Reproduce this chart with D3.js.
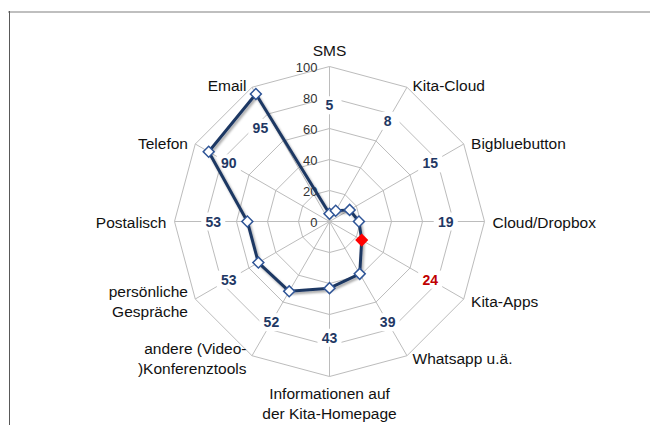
<!DOCTYPE html>
<html>
<head>
<meta charset="utf-8">
<script src="https://cdn.jsdelivr.net/npm/d3@7"></script>
<style>
  body { margin: 0; background: #fff; }
  svg { display: block; font-family: "Liberation Sans", Arial, sans-serif; }
</style>
</head>
<body>
<div id="chart"></div>
<script>
// categories, clockwise from the top
const categories = ["SMS", "Kita-Cloud", "Bigbluebutton", "Cloud/Dropbox", "Kita-Apps", "Whatsapp u.ä.",
  "Informationen auf der Kita-Homepage", "andere (Video-)Konferenztools", "persönliche Gespräche",
  "Postalisch", "Telefon", "Email"]
const categoryLines = [["SMS"], ["Kita-Cloud"], ["Bigbluebutton"], ["Cloud/Dropbox"], ["Kita-Apps"], ["Whatsapp u.ä."],
  ["Informationen auf", "der Kita-Homepage"], ["andere (Video-", ")Konferenztools"], ["persönliche", "Gespräche"],
  ["Postalisch"], ["Telefon"], ["Email"]]
const values = [5, 8, 15, 19, 24, 39, 43, 52, 53, 53, 90, 95]
const highlighted = ["Kita-Apps"]
const ticks = [0, 20, 40, 60, 80, 100]

const width = 650, height = 425
const cx = 329.5, cy = 221.5, R = 155

// the Email label was dragged off its spoke in the original
const labelNudge = { "Email": [-11, 7] }

const svg = d3.select("#chart").append("svg")
  .attr("width", width)
  .attr("height", height)

// frame lines of the chart area
svg.append("line").attr("x1", 8).attr("x2", width).attr("y1", 12).attr("y2", 12)
  .style("stroke", "#bfbfbf").style("stroke-width", 2)
svg.append("line").attr("x1", 9.5).attr("x2", 9.5).attr("y1", 11).attr("y2", height)
  .style("stroke", "#595959").style("stroke-width", 1)

const defs = svg.append("defs")
defs.append("filter").attr("id", "shadow").attr("x", "-10%").attr("y", "-10%").attr("width", "130%").attr("height", "130%")
  .append("feDropShadow").attr("dx", 1.5).attr("dy", 2).attr("stdDeviation", 1.3)
  .attr("flood-color", "#000").attr("flood-opacity", 0.35)

const g = svg.append("g").attr("transform", `translate(${cx},${cy})`)

const r = d3.scaleLinear().domain([0, 100]).range([0, R])
const angle = d3.scaleLinear().domain([0, categories.length]).range([0, 2 * Math.PI])

// grid rings
const ring = d3.lineRadial().curve(d3.curveLinearClosed)
g.selectAll(".ring")
  .data(ticks.slice(1))
  .join("path")
    .attr("class", "ring")
    .attr("d", t => ring(categories.map((c, i) => [angle(i), r(t)])))
    .style("fill", "none")
    .style("stroke", "#bcbcbc")
    .style("stroke-width", 1)

// spokes
g.selectAll(".spoke")
  .data(categories)
  .join("line")
    .attr("class", "spoke")
    .attr("x1", 0).attr("y1", 0)
    .attr("x2", (d, i) => d3.pointRadial(angle(i), R)[0])
    .attr("y2", (d, i) => d3.pointRadial(angle(i), R)[1])
    .style("stroke", "#bcbcbc")
    .style("stroke-width", 1)

// tick labels along the first axis
g.selectAll(".tick")
  .data(ticks)
  .join("text")
    .attr("class", "tick")
    .attr("x", -12)
    .attr("y", t => -r(t) + 2)
    .attr("text-anchor", "end")
    .attr("dominant-baseline", "middle")
    .style("font-size", "13px")
    .style("fill", "#333")
    .text(t => t)

// data labels on a fixed ring, with white background cutting the grid
const labelG = g.selectAll(".dlabel")
  .data(values)
  .join("g")
    .attr("class", "dlabel")
    .attr("transform", (d, i) => {
      const p = d3.pointRadial(angle(i), r(75))
      const n = labelNudge[categories[i]] || [0, 0]
      return `translate(${p[0] + n[0]},${p[1] + n[1]})`
    })
labelG.append("rect")
  .attr("x", -12).attr("y", -9).attr("width", 24).attr("height", 18)
  .style("fill", "#fff")
labelG.append("text")
  .attr("text-anchor", "middle")
  .attr("dominant-baseline", "central")
  .style("font-size", "14px")
  .style("font-weight", "bold")
  .style("fill", (d, i) => highlighted.includes(categories[i]) ? "#c00000" : "#1f3864")
  .text(d => d)

// category labels
categoryLines.forEach((lines, i) => {
  const a = angle(i)
  const s = Math.sin(a), c = Math.cos(a)
  let anchor = "middle", x, y
  if (Math.abs(s) < 0.01) {
    x = 0
    y = c > 0 ? -R - 17 : R + 16
  } else {
    const p = d3.pointRadial(a, R)
    anchor = s > 0 ? "start" : "end"
    x = p[0] + (s > 0 ? 1 : -1) * (3 + 5 * Math.abs(s))
    y = p[1] - 3 * c
  }
  const t = g.append("text")
    .attr("text-anchor", anchor)
    .attr("dominant-baseline", "central")
    .style("font-size", "15.5px")
    .style("fill", "#111")
  const startY = (Math.abs(s) < 0.01) ? y : y - (lines.length - 1) * 10
  lines.forEach((ln, k) => {
    t.append("tspan").attr("x", x).attr("y", startY + k * 20).text(ln)
  })
})

// series line
const pts = values.map((v, i) => [angle(i), r(v)])
g.append("path")
  .attr("d", d3.lineRadial().curve(d3.curveLinearClosed)(pts))
  .style("fill", "none")
  .style("stroke", "#1f3864")
  .style("stroke-width", 3)
  .style("stroke-linejoin", "round")
  .attr("filter", "url(#shadow)")

// diamond markers
const diamond = d3.symbol().type(d3.symbolSquare).size(60)
g.selectAll(".marker")
  .data(values)
  .join("path")
    .attr("class", "marker")
    .attr("d", diamond)
    .attr("transform", (d, i) => {
      const p = d3.pointRadial(angle(i), r(d))
      return `translate(${p[0]},${p[1]}) rotate(45)`
    })
    .style("fill", (d, i) => highlighted.includes(categories[i]) ? "#ff0000" : "#fff")
    .style("stroke", (d, i) => highlighted.includes(categories[i]) ? "#ff0000" : "#2f5597")
    .style("stroke-width", 1.5)
</script>
</body>
</html>
